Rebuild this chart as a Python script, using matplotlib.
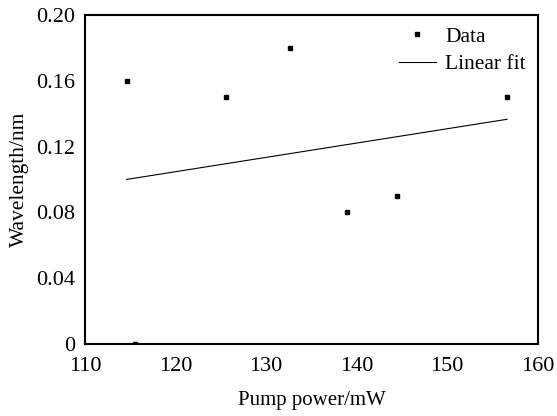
import numpy as np
import matplotlib
matplotlib.use('Agg')
import matplotlib.pyplot as plt

pump_power = [114.6, 115.5, 125.6, 132.6, 138.9, 144.4, 156.6]
wavelength = [0.16, 0.0, 0.15, 0.18, 0.08, 0.09, 0.15]

x_ticks = [110, 120, 130, 140, 150, 160]
y_ticks = [0, 0.04, 0.08, 0.12, 0.16, 0.20]
y_tick_labels = ['0', '0.04', '0.08', '0.12', '0.16', '0.20']

plt.rcParams['font.family'] = ['Liberation Serif', 'DejaVu Serif']

fig = plt.figure(figsize=(5.57, 4.16), dpi=100)
ax = fig.add_axes([0.1526, 0.173, 0.813, 0.791])

# linear fit over the data range
k, b = np.polyfit(pump_power, wavelength, 1)
xf = np.array([min(pump_power), max(pump_power)])

ax.plot(pump_power, wavelength, 's', color='black', markersize=3.5, label='Data')
ax.plot(xf, k * xf + b, '-', color='black', linewidth=0.8, label='Linear fit')

ax.set_xlim(110, 160)
ax.set_ylim(0, 0.20)
ax.set_xticks(x_ticks)
ax.set_yticks(y_ticks)
ax.set_yticklabels(y_tick_labels)
ax.tick_params(length=0, labelsize=16)
ax.tick_params(axis='y', pad=7)
ax.tick_params(axis='x', pad=9)
for s in ax.spines.values():
    s.set_linewidth(1.5)

ax.set_xlabel('Pump power/mW', fontsize=15, labelpad=11)
ax.set_ylabel('Wavelength/nm', fontsize=15.5, labelpad=5)

ax.legend(loc='upper right', frameon=False, fontsize=15.5, handlelength=1.7,
          handletextpad=0.45, labelspacing=0.35, borderaxespad=0.15,
          bbox_to_anchor=(1.0, 1.0))

plt.savefig('out.png', dpi=100)
